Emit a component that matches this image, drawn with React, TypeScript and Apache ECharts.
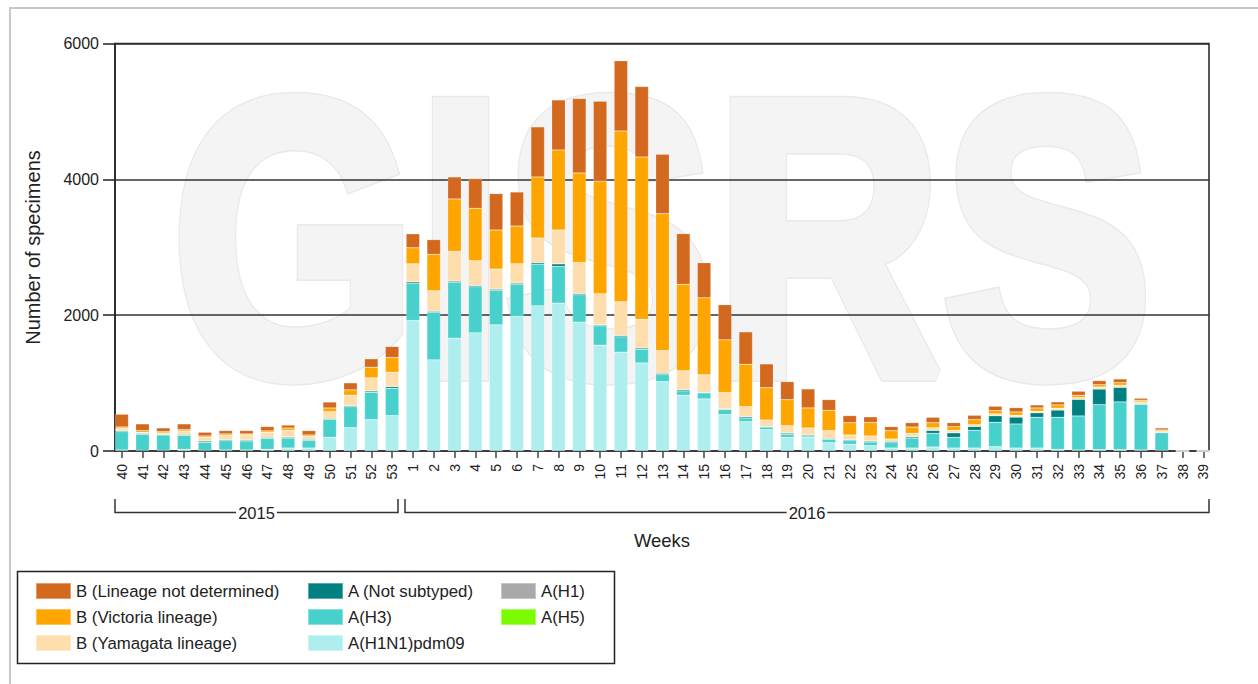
import React, { useEffect, useRef } from "react";
import * as echarts from "echarts";

const weeks = [
  "40","41","42","43","44","45","46","47","48","49","50","51","52","53",
  "1","2","3","4","5","6","7","8","9","10","11","12","13","14","15","16","17","18","19","20",
  "21","22","23","24","25","26","27","28","29","30","31","32","33","34","35","36","37","38","39",
];

const bLineageND = [
  187, 98, 54, 84, 54, 49, 49, 64, 44, 64, 88, 103, 123, 162,
  206, 216, 324, 437, 536, 501, 737, 737, 1096, 1174, 1032, 1037, 875, 747, 516, 516, 477, 349, 265, 280,
  157, 103, 84, 59, 64, 79, 59, 64, 64, 64, 44, 44, 59, 59, 54, 29, 29, 0, 0,
];
const bVictoria = [
  20, 25, 20, 20, 20, 20, 15, 20, 34, 20, 54, 79, 157, 216,
  236, 536, 772, 772, 575, 555, 899, 1179, 1317, 1661, 2516, 2388, 2015, 1273, 1135, 776, 624, 477, 383, 295,
  300, 182, 197, 123, 93, 74, 54, 74, 49, 49, 49, 49, 34, 34, 39, 25, 15, 0, 0,
];
const bYamagata = [
  34, 15, 20, 49, 54, 64, 74, 74, 98, 44, 98, 152, 192, 211,
  265, 300, 437, 364, 295, 285, 359, 496, 457, 457, 496, 423, 334, 275, 256, 241, 147, 93, 108, 98,
  113, 69, 74, 34, 49, 39, 34, 25, 25, 25, 20, 25, 25, 29, 29, 25, 20, 0, 0,
];
const aNotSubtyped = [
  15, 15, 10, 15, 20, 15, 15, 15, 15, 15, 15, 15, 20, 25,
  25, 15, 20, 20, 20, 20, 25, 39, 20, 15, 20, 20, 20, 20, 10, 10, 20, 10, 20, 15,
  15, 15, 15, 20, 20, 44, 69, 59, 98, 103, 69, 108, 246, 231, 216, 10, 5, 0, 0,
];
const aH1 = weeks.map(() => 0);
const aH5 = weeks.map(() => 0);
const aH3 = [
  270, 236, 226, 206, 118, 138, 133, 162, 147, 113, 265, 310, 403, 403,
  545, 703, 821, 678, 506, 472, 614, 541, 403, 285, 226, 201, 103, 64, 88, 74, 54, 39, 44, 20,
  49, 54, 54, 79, 147, 201, 157, 260, 359, 354, 452, 472, 501, 663, 703, 673, 260, 0, 0,
];
const aH1N1pdm09 = [
  15, 10, 10, 25, 10, 15, 15, 25, 44, 44, 201, 344, 462, 521,
  1921, 1342, 1661, 1740, 1858, 1980, 2138, 2177, 1897, 1558, 1455, 1297, 1022, 821, 767, 536, 432, 314, 201, 206,
  123, 98, 79, 44, 44, 59, 44, 44, 64, 44, 44, 25, 15, 20, 20, 15, 10, 0, 0,
];

const yTicks = { min: 0, max: 6000, interval: 2000 };

const seriesDefs = [
  { name: "A(H1N1)pdm09", data: aH1N1pdm09, color: "#AFEEEE" },
  { name: "A(H3)", data: aH3, color: "#48D1CC" },
  { name: "A (Not subtyped)", data: aNotSubtyped, color: "#008080" },
  { name: "A(H1)", data: aH1, color: "#A9A9A9" },
  { name: "A(H5)", data: aH5, color: "#7CFC00" },
  { name: "B (Yamagata lineage)", data: bYamagata, color: "#FFDEAD" },
  { name: "B (Victoria lineage)", data: bVictoria, color: "#FFA500" },
  { name: "B (Lineage not determined)", data: bLineageND, color: "#D2691E" },
];

const FONT = '"Liberation Sans", Arial, sans-serif';
const TXT = "#222";

function txt(text: string, x: number, y: number, size: number, extra: any = {}) {
  return {
    type: "text",
    x,
    y,
    silent: true,
    ...extra,
    style: {
      text,
      fill: TXT,
      fontSize: size,
      fontFamily: FONT,
      align: "center",
      verticalAlign: "middle",
      textAlign: "center",
      textVerticalAlign: "middle",
      ...(extra.style || {}),
    },
  };
}

function watermark(fill: string, stroke: string, lineWidth: number, z: number) {
  return {
    type: "text",
    x: 662,
    y: 238,
    scaleX: 0.8,
    z,
    silent: true,
    style: {
      text: "GISRS",
      fontSize: 394,
      fontWeight: "bold",
      fontFamily: FONT,
      fill,
      stroke,
      lineWidth,
      lineJoin: "round",
      align: "center",
      verticalAlign: "middle",
      textAlign: "center",
      textVerticalAlign: "middle",
    },
  };
}

export default function App() {
  const ref = useRef<HTMLDivElement>(null);
  useEffect(() => {
    document.body.style.margin = "0";
    if (!ref.current) return;
    const chart = echarts.init(ref.current, undefined, { renderer: "svg" });
    const legendCommon = {
      orient: "vertical",
      top: 582,
      itemWidth: 35,
      itemHeight: 16,
      itemGap: 8,
      padding: 0,
      icon: "rect",
      selectedMode: true,
      textStyle: { fontSize: 16.8, fontFamily: FONT, color: TXT },
    };
    chart.setOption({
      animation: false,
      backgroundColor: "#fff",
      textStyle: { fontFamily: FONT },
      grid: [
        { left: 111.3, right: 44.3, top: 43.5, bottom: 233 },
        {
          left: 115,
          right: 49,
          top: 43.5,
          bottom: 233,
          show: true,
          borderColor: "#222",
          borderWidth: 1.5,
          backgroundColor: "transparent",
        },
      ],
      xAxis: [
        {
          type: "category",
          gridIndex: 0,
          data: weeks,
          axisLine: { show: false },
          axisTick: { show: true, alignWithLabel: true, length: 7, lineStyle: { color: "#444", width: 1.5 } },
          axisLabel: { rotate: 90, interval: 0, fontSize: 14, margin: 13, color: TXT, fontFamily: FONT },
          splitLine: { show: false },
        },
        { type: "category", gridIndex: 1, data: weeks, show: false },
      ],
      yAxis: [
        { type: "value", gridIndex: 0, min: yTicks.min, max: yTicks.max, interval: yTicks.interval, show: false },
        {
          type: "value",
          gridIndex: 1,
          min: yTicks.min,
          max: yTicks.max,
          interval: yTicks.interval,
          axisLine: { show: true, lineStyle: { color: "#222", width: 1.5 } },
          axisTick: { show: true, length: 12, lineStyle: { color: "#222", width: 1.5 } },
          axisLabel: {
            fontSize: 16,
            margin: 16,
            color: TXT,
            fontFamily: FONT,
            formatter: (v: number) => String(v),
          },
          splitLine: { show: true, lineStyle: { color: "#333", width: 1.5 } },
        },
      ],
      legend: [
        { ...legendCommon, left: 35, data: ["B (Lineage not determined)", "B (Victoria lineage)", "B (Yamagata lineage)"] },
        { ...legendCommon, left: 307, data: ["A (Not subtyped)", "A(H3)", "A(H1N1)pdm09"] },
        { ...legendCommon, left: 500, data: ["A(H1)", "A(H5)"] },
      ],
      series: seriesDefs.map((s) => ({
        name: s.name,
        type: "bar",
        stack: "total",
        xAxisIndex: 0,
        yAxisIndex: 0,
        barWidth: 13.5,
        data: s.data,
        itemStyle: { color: s.color, borderColor: "rgba(255,255,255,0.35)", borderWidth: 0.5 },
        emphasis: { disabled: true },
      })),
      graphic: [
        watermark("#f4f4f4", "#e9e9e9", 15, -12),
        watermark("#f4f4f4", "#f4f4f4", 12, -11),
        {
          type: "rect",
          silent: true,
          shape: { x: 10, y: 8, width: 1300, height: 700 },
          style: { fill: "none", stroke: "#c8c8c8", lineWidth: 2 },
        },
        {
          type: "rect",
          silent: true,
          shape: { x: 17.5, y: 571.5, width: 597, height: 92 },
          style: { fill: "none", stroke: "#222", lineWidth: 1.5 },
        },
        {
          type: "polyline",
          silent: true,
          shape: { points: [[115, 499], [115, 512.5], [398, 512.5], [398, 499]] },
          style: { fill: "none", stroke: "#333", lineWidth: 1.5 },
        },
        {
          type: "polyline",
          silent: true,
          shape: { points: [[405, 499], [405, 512.5], [1209, 512.5], [1209, 499]] },
          style: { fill: "none", stroke: "#333", lineWidth: 1.5 },
        },
        txt("2015", 256.5, 513, 16.5, { style: { backgroundColor: "#fff", padding: [0, 2] } }),
        txt("2016", 807, 513, 16.5, { style: { backgroundColor: "#fff", padding: [0, 2] } }),
        txt("Weeks", 662, 540, 18.5),
        txt("Number of specimens", 33, 247.5, 20, { rotation: Math.PI / 2 }),
      ],
    });
    return () => chart.dispose();
  }, []);
  return <div ref={ref} style={{ width: 1258, height: 684, overflow: "hidden" }} />;
}
